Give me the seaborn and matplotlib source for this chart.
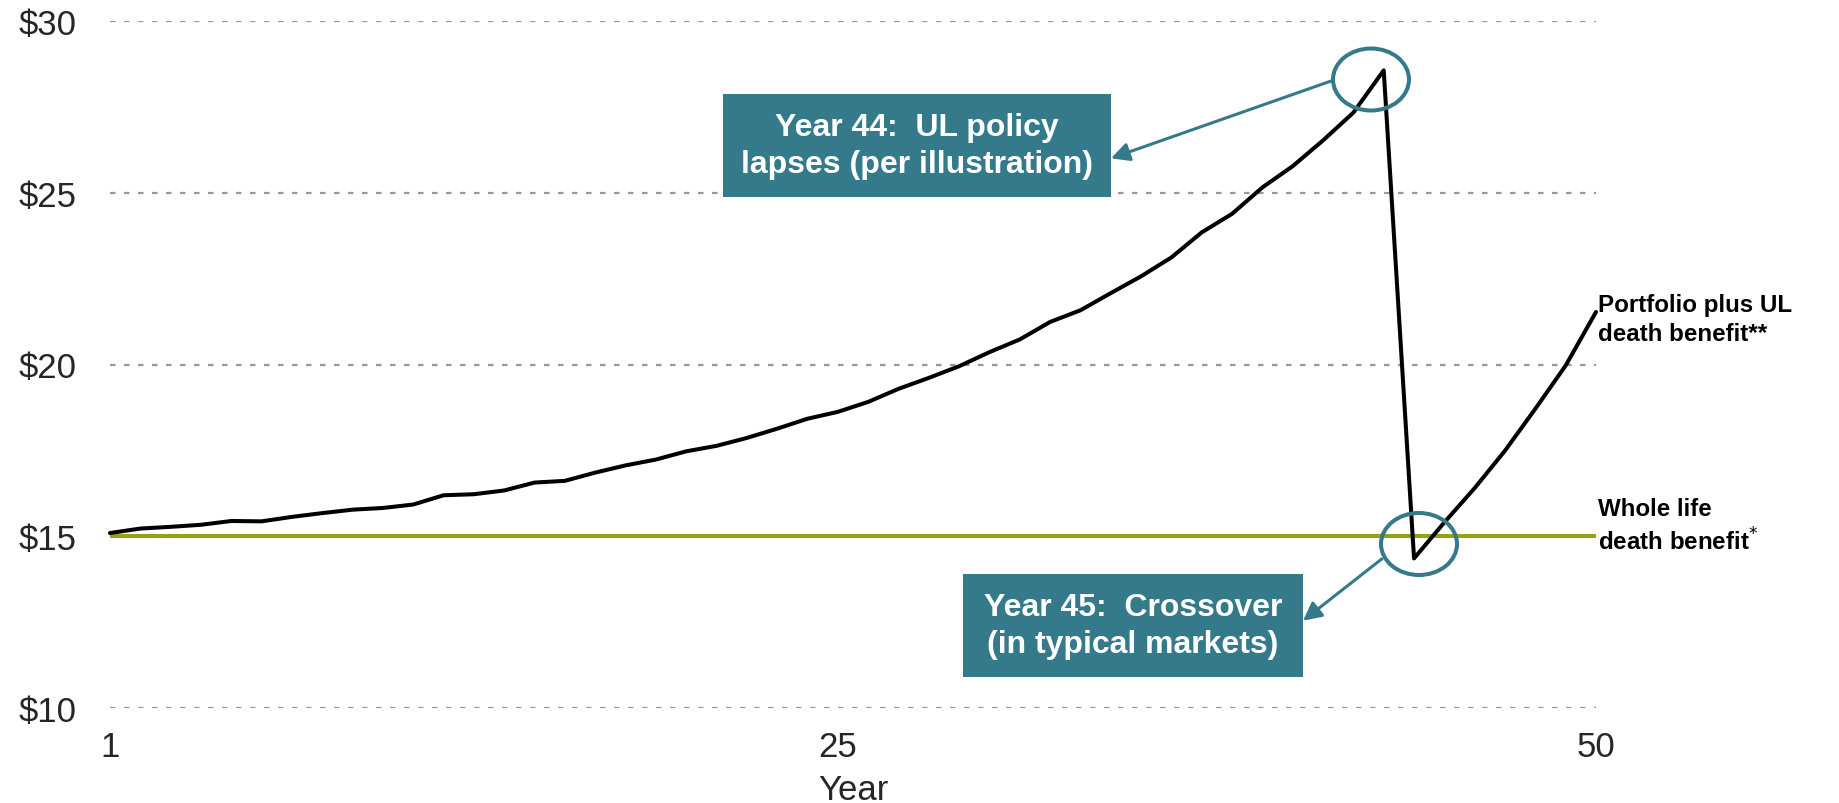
import matplotlib
matplotlib.use("Agg")
import matplotlib.pyplot as plt
import seaborn as sns
import pandas as pd
from matplotlib.patches import Ellipse, FancyArrowPatch, Rectangle

# ---------------- data ----------------
years = list(range(1, 51))
portfolio_plus_ul = [
    15.09, 15.22, 15.27, 15.33, 15.44, 15.43, 15.56, 15.67, 15.77, 15.82,
    15.92, 16.19, 16.22, 16.33, 16.56, 16.61, 16.85, 17.06, 17.23, 17.47,
    17.63, 17.86, 18.13, 18.42, 18.62, 18.91, 19.29, 19.61, 19.95, 20.36,
    20.73, 21.24, 21.58, 22.08, 22.57, 23.12, 23.85, 24.39, 25.16, 25.78,
    26.53, 27.34, 28.57, 14.35, 15.40, 16.40, 17.49, 18.71, 19.97, 21.53,
]
whole_life_benefit = 15.0
y_ticks = [10, 15, 20, 25, 30]
y_tick_labels = ["$10", "$15", "$20", "$25", "$30"]
x_ticks = [1, 25, 50]
x_tick_labels = ["1", "25", "50"]
x_label = "Year"
series_labels = ["Portfolio plus UL\ndeath benefit**", "Whole life\ndeath benefit$^{*}$"]
callouts = ["Year 44:  UL policy\nlapses (per illustration)",
            "Year 45:  Crossover\n(in typical markets)"]

# ---------------- style ----------------
TEAL = "#357A8A"
GREEN = "#94A312"
GRID = "#999999"

sns.set_theme(style="white")
plt.rcParams["font.family"] = ["Liberation Sans", "DejaVu Sans"]

W, H = 1840, 804
fig = plt.figure(figsize=(W / 100, H / 100), dpi=100)


def fx(x):
    return x / W


def fy(y):
    return 1 - y / H


ax = fig.add_axes([fx(110), fy(708.7), (1596 - 110) / W, (708.7 - 22.3) / H])

df = pd.DataFrame({"Year": years, "Value": portfolio_plus_ul})
ax.axhline(whole_life_benefit, color=GREEN, lw=2.9, zorder=2)
sns.lineplot(data=df, x="Year", y="Value", ax=ax, color="black", lw=2.9,
             zorder=3, clip_on=False)

ax.set_xlim(1, 50)
ax.set_ylim(10, 30)
ax.set_yticks(y_ticks)
ax.set_yticklabels(y_tick_labels, fontsize=25)
ax.set_xticks(x_ticks)
ax.set_xticklabels(x_tick_labels, fontsize=25)
ax.set_axisbelow(True)
ax.yaxis.grid(True, color=GRID, lw=1.6, ls=(0, (2.5, 3.8)))
ax.xaxis.grid(False)
for s in ax.spines.values():
    s.set_visible(False)
ax.tick_params(axis="y", length=0, pad=24)
ax.tick_params(axis="x", length=0, pad=16)
ax.set_xlabel(x_label, fontsize=25, labelpad=7)
ax.set_ylabel("")

# ---------------- callout boxes ----------------
boxes = [(723, 95, 1111, 198), (963, 575, 1303, 678)]
for (x0, y0, x1, y1), txt in zip(boxes, callouts):
    fig.add_artist(Rectangle((fx(x0), fy(y1)), (x1 - x0) / W, (y1 - y0) / H,
                             transform=fig.transFigure, facecolor=TEAL,
                             edgecolor="none", zorder=5))
    fig.text(fx((x0 + x1) / 2), fy((y0 + y1) / 2), txt, color="white",
             fontsize=23, fontweight="bold", ha="center", va="center",
             linespacing=1.32, zorder=6)

# ---------------- circles ----------------
for cx, cy in [(1371, 80.5), (1419, 545)]:
    fig.add_artist(Ellipse((fx(cx), fy(cy)), 76 / W, 62 / H,
                           transform=fig.transFigure, fill=False,
                           edgecolor=TEAL, lw=2.9, zorder=6))

# ---------------- arrows ----------------
for (ax0, ay0), (ax1, ay1) in [((1332, 81.7), (1111, 159.3)),
                               ((1381.7, 560), (1303, 621.7))]:
    fig.add_artist(FancyArrowPatch((fx(ax0), fy(ay0)), (fx(ax1), fy(ay1)),
                                   transform=fig.transFigure,
                                   arrowstyle="-|>,head_length=0.55,head_width=0.28",
                                   mutation_scale=20, lw=2.2, color=TEAL,
                                   shrinkA=0, shrinkB=0, zorder=6))

# ---------------- series labels ----------------
fig.text(fx(1598), fy(320), series_labels[0], fontsize=17.4, fontweight="bold",
         ha="left", va="center", linespacing=1.38, color="black")
fig.text(fx(1598), fy(527), series_labels[1], fontsize=17.4, fontweight="bold",
         ha="left", va="center", linespacing=1.32, color="black")

fig.savefig("out.png", dpi=100)
